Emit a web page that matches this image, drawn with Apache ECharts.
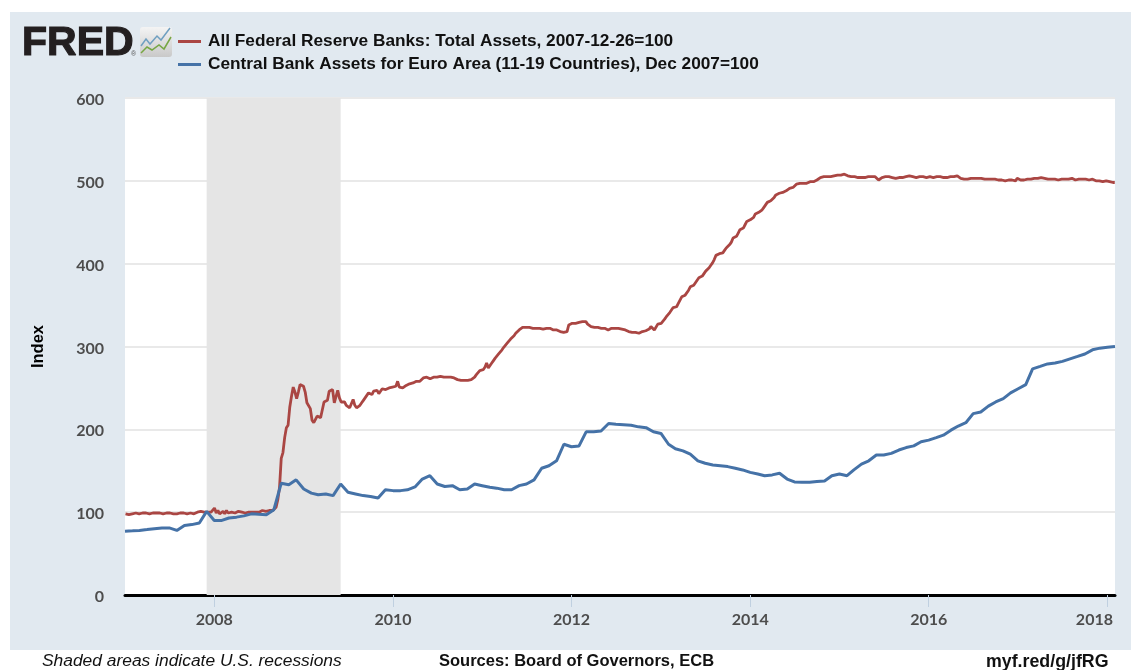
<!DOCTYPE html>
<html>
<head>
<meta charset="utf-8">
<title>FRED</title>
<script src="https://cdn.jsdelivr.net/npm/echarts@6/dist/echarts.min.js"></script>
<style>
  html, body { margin: 0; padding: 0; background: #fff; }
  #chart { width: 1131px; height: 670px; }
</style>
</head>
<body>
<div id="chart"></div>
<script>
// Fed total assets, weekly (Wednesdays), one list per year
const fed2007 = [98,98,97,97,98,98,99,98,98,98, 99,98,99,98,98,99,99,101,99,98, 99,98,98,99,99,98,99,98,98,99, 98,98,99,98,99,99,98,99,99,100, 98,99,100,99,101,99,100,99,100,100, 100,100]
const fed2008 = [105,99,102,98,100,101,98,102,99,100, 100,101,99,100,101,100,100,100,99,100, 100,100,100,101,100,100,100,101,102,102, 101,102,102,101,102,103,106,115,130,165, 172,190,202,205,227,240,251,245,237,245, 254,253,252]
const fed2009 = [245,232,231,225,211,208,207,216,215,214, 215,233,234,235,246,247,248,232,234,247, 238,233,231,233,229,231,226,225,236,229, 226,225,229,232,235,238,240,244,243,242, 246,248,247,243,241,249,249,248,246,250, 251,251]
const fed2010 = [251,252,258,251,250,250,251,253,254,255, 254,256,257,258,259,258,260,262,262,263, 262,261,262,263,264,263,263,264,263,263, 264,263,263,263,262,262,261,260,259,259, 260,259,259,259,259,260,261,263,266,268, 271,273]
const fed2011 = [272,275,280,274,277,280,283,286,288,291, 293,296,299,301,304,306,309,311,313,316, 318,320,322,323,323,323,324,323,323,322, 323,322,322,322,322,321,322,322,321,322, 321,320,319,320,319,318,317,317,316,318, 326,328]
const fed2012 = [328,329,328,329,329,330,330,331,330,327, 325,324,324,323,323,323,322,322,323,322, 321,320,321,322,323,322,322,322,321,321, 320,320,319,318,318,317,317,317,316,316, 315,318,320,319,318,321,324,322,320,322, 327,328]
const fed2013 = [328,330,333,336,338,341,344,347,348,348, 352,356,360,361,362,362,368,372,373,374, 376,380,383,383,385,388,391,393,395,398, 401,405,410,411,412,412,413,416,419,421, 423,426,431,432,433,437,441,442,443,447, 451,452]
const fed2014 = [453,453,456,460,461,462,463,465,468,471, 474,475,476,477,480,483,484,485,485,486, 487,488,489,491,491,492,494,496,497,497, 498,497,496,497,497,499,498,499,501,501, 503,504,505,505,505,505,505,505,506,506, 506,507,507]
const fed2015 = [507,507,508,507,506,506,505,505,505,504, 504,505,504,505,504,505,505,504,505,504, 505,503,501,502,504,504,505,505,505,504, 504,503,503,503,504,505,504,504,505,505, 506,505,505,504,504,504,505,505,505,504, 504,505]
const fed2016 = [505,505,504,505,505,504,505,504,504,505, 504,505,505,504,505,506,506,505,503,503, 502,502,502,503,503,503,503,503,503,502, 503,503,502,503,502,503,502,503,502,503, 501,502,501,501,500,501,501,500,501,501, 500,503]
const fed2017 = [501,501,500,501,501,502,502,502,503,503, 504,503,503,504,503,503,502,502,503,502, 503,502,502,501,502,502,503,502,502,502, 503,503,502,501,502,502,502,502,501,502, 502,501,502,502,501,500,500,500,499,499, 500,500]
const fed2018 = [500,499,499,498,498]

// Euro area central bank assets, monthly
const ecb2007 = [77,77.5,78,79,80,81,81,78,84,85,87,101]
const ecb2008 = [90,90,93,94,95.5,98,97.5,97,103,135,133,139]
const ecb2009 = [128,123,121,122,120,134,124,122,120,119,117,127]
const ecb2010 = [126,126,127,130.5,140,144,134,131,132,127,128,134]
const ecb2011 = [132,130,129,127,127,132,134,139,153,156,162,182]
const ecb2012 = [179,180,197,197,198,207,206,205.5,205,203,202,197]
const ecb2013 = [195,182,176.5,174,170,162,159,157,156,155,153,151]
const ecb2014 = [148,146,144,145,147,140,136.5,136,136,137,137.7,144]
const ecb2015 = [146,144,151,158,162,169,169,171,175,178,180,185]
const ecb2016 = [187,190,193,199,204,208,219,221,228,233,237,244]
const ecb2017 = [249,254,273,276,279,280,282,285,288,291,296,298]
const ecb2018 = [299,300]

const yearTicks = [2008, 2010, 2012, 2014, 2016, 2018]
const recession = [Date.UTC(2007, 11, 1), Date.UTC(2009, 5, 1)]

const fedName = 'All Federal Reserve Banks: Total Assets, 2007-12-26=100'
const ecbName = 'Central Bank Assets for Euro Area (11-19 Countries), Dec 2007=100'

const DAY = 86400000
const weekly = (first, vals) => vals.map((v, i) => [first + i * 7 * DAY, v])
const monthly = (year, vals) => vals.map((v, i) => [Date.UTC(year, i, 1), v])

const fedData = [
  ...weekly(Date.UTC(2007, 0, 3), fed2007),
  ...weekly(Date.UTC(2008, 0, 2), fed2008),
  ...weekly(Date.UTC(2009, 0, 7), fed2009),
  ...weekly(Date.UTC(2010, 0, 6), fed2010),
  ...weekly(Date.UTC(2011, 0, 5), fed2011),
  ...weekly(Date.UTC(2012, 0, 4), fed2012),
  ...weekly(Date.UTC(2013, 0, 2), fed2013),
  ...weekly(Date.UTC(2014, 0, 1), fed2014),
  ...weekly(Date.UTC(2015, 0, 7), fed2015),
  ...weekly(Date.UTC(2016, 0, 6), fed2016),
  ...weekly(Date.UTC(2017, 0, 4), fed2017),
  ...weekly(Date.UTC(2018, 0, 3), fed2018),
]
const ecbData = [
  ...monthly(2007, ecb2007), ...monthly(2008, ecb2008), ...monthly(2009, ecb2009),
  ...monthly(2010, ecb2010), ...monthly(2011, ecb2011), ...monthly(2012, ecb2012),
  ...monthly(2013, ecb2013), ...monthly(2014, ecb2014), ...monthly(2015, ecb2015),
  ...monthly(2016, ecb2016), ...monthly(2017, ecb2017), ...monthly(2018, ecb2018),
]

const yearStamps = yearTicks.map(y => Date.UTC(y, 0, 1))
const LABEL_FONT = 'Lato, "Open Sans", sans-serif'
const TEXT_FONT = '"Liberation Sans", Arial, sans-serif'
const richLabel = { color: '#4d4d4d', fontFamily: LABEL_FONT, fontWeight: 'bold', fontSize: 16 }

const chart = echarts.init(document.getElementById('chart'), null, { renderer: 'canvas' })

chart.setOption({
  animation: false,
  backgroundColor: '#fff',
  grid: { left: 125, top: 98, width: 990, height: 497, show: true, backgroundColor: '#fff', borderWidth: 0 },
  legend: {
    left: 173, top: 28, orient: 'vertical', itemWidth: 23, itemHeight: 3, itemGap: 6,
    icon: 'rect', selectedMode: false,
    data: [fedName, ecbName],
    textStyle: { fontFamily: TEXT_FONT, fontWeight: 'bold', fontSize: 17.25, color: '#111', padding: [0, 0, 0, 2] },
  },
  xAxis: {
    // timestamps on a plain value axis, so the year ticks can be listed
    type: 'value',
    min: Date.UTC(2007, 0, 1),
    max: Date.UTC(2018, 1, 1),
    axisLine: { onZero: false, lineStyle: { color: '#000', width: 3 } },
    axisTick: { show: true, length: 12, lineStyle: { color: '#c0d0e0', width: 1 }, customValues: yearStamps },
    splitLine: { show: false },
    axisLabel: {
      customValues: yearStamps,
      margin: 17,
      color: '#4d4d4d',
      fontFamily: LABEL_FONT,
      fontWeight: 'bold',
      fontSize: 16,
      formatter: v => {
        const y = new Date(v).getUTCFullYear()
        return y === 2018 ? `{last|${y}}` : String(y)
      },
      rich: { last: { ...richLabel, padding: [0, 26, 0, 0] } },
    },
  },
  yAxis: {
    type: 'value',
    min: 0,
    max: 600,
    interval: 100,
    name: 'Index',
    nameLocation: 'middle',
    nameGap: 78,
    nameRotate: 90,
    nameTextStyle: { fontFamily: TEXT_FONT, fontWeight: 'bold', fontSize: 16.5, color: '#000' },
    axisLine: { show: false },
    axisTick: { show: false },
    splitLine: { lineStyle: { color: '#e9e9e9', width: 2 } },
    axisLabel: {
      margin: 21,
      formatter: v => `{num|${v}}`,
      rich: { num: { ...richLabel, padding: [4, 0, 0, 0] } },
    },
  },
  series: [
    {
      name: fedName,
      type: 'line',
      data: fedData,
      showSymbol: false,
      lineStyle: { color: '#AA4643', width: 2.8 },
      itemStyle: { color: '#AA4643' },
      markArea: {
        silent: true,
        itemStyle: { color: '#e5e5e5', opacity: 1 },
        data: [[{ xAxis: recession[0] }, { xAxis: recession[1] }]],
      },
    },
    {
      name: ecbName,
      type: 'line',
      data: ecbData,
      showSymbol: false,
      lineStyle: { color: '#4572A7', width: 3 },
      itemStyle: { color: '#4572A7' },
    },
  ],
  graphic: [
    // panel behind the plot
    { type: 'rect', z: -10, silent: true, shape: { x: 10, y: 12, width: 1121, height: 638 }, style: { fill: '#e1e9f0' } },
    // logo
    { type: 'text', x: 22, y: 23, style: { text: 'FRED', fontFamily: TEXT_FONT, fontWeight: 'bold', fontSize: 41, fill: '#231f20', stroke: '#231f20', lineWidth: 1.2 } },
    { type: 'text', x: 131, y: 51, style: { text: '®', fontFamily: TEXT_FONT, fontSize: 7, fill: '#555' } },
    { type: 'rect', shape: { x: 140, y: 27, width: 32, height: 30, r: 3 }, style: { fill: new echarts.graphic.LinearGradient(0, 0, 0, 1, [{ offset: 0, color: '#f4f4f4' }, { offset: 1, color: '#c9c9c9' }]) } },
    { type: 'polyline', shape: { points: [[141, 46], [146, 39], [150, 44], [157, 36], [161, 40], [170, 28]] }, style: { fill: null, stroke: '#6f9fc0', lineWidth: 1.5 } },
    { type: 'polyline', shape: { points: [[141, 53], [147, 47], [152, 50], [159, 45], [164, 49], [171, 37]] }, style: { fill: null, stroke: '#76a643', lineWidth: 1.5 } },
    // footer
    { type: 'text', x: 42, y: 653, style: { text: 'Shaded areas indicate U.S. recessions', fontFamily: TEXT_FONT, fontStyle: 'italic', fontSize: 17.4, fill: '#111' } },
    { type: 'text', x: 439, y: 653, style: { text: 'Sources: Board of Governors, ECB', fontFamily: TEXT_FONT, fontWeight: 'bold', fontSize: 16.5, fill: '#111' } },
    { type: 'text', x: 986, y: 653, style: { text: 'myf.red/g/jfRG', fontFamily: TEXT_FONT, fontWeight: 'bold', fontSize: 17.8, fill: '#111' } },
  ],
})
</script>
</body>
</html>
